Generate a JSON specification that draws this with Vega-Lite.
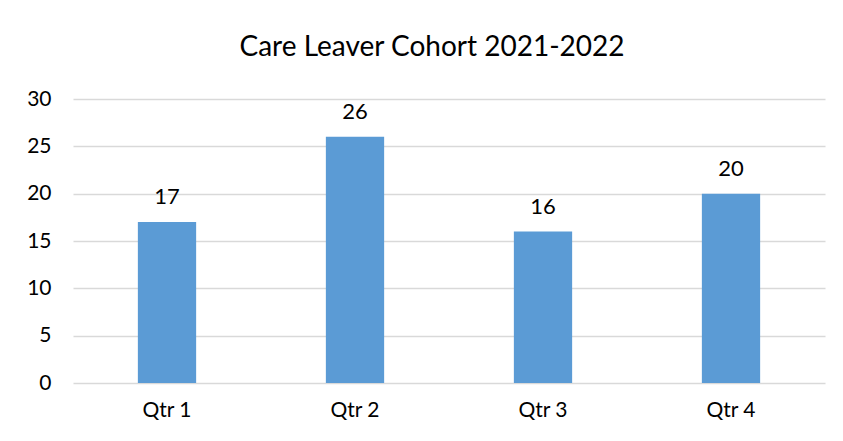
{
  "$schema": "https://vega.github.io/schema/vega-lite/v6.json",
  "autosize": "none",
  "padding": {"left": 73, "top": 99, "right": 18, "bottom": 58},
  "width": 752,
  "height": 284,
  "background": "white",
  "title": {
    "text": "Care Leaver Cohort 2021-2022",
    "font": "Lato",
    "fontSize": 28,
    "fontWeight": "normal",
    "color": "#000000",
    "anchor": "middle",
    "frame": "group",
    "dx": -17,
    "offset": 26
  },
  "data": {
    "values": [
      {"quarter": "Qtr 1", "count": 17},
      {"quarter": "Qtr 2", "count": 26},
      {"quarter": "Qtr 3", "count": 16},
      {"quarter": "Qtr 4", "count": 20}
    ]
  },
  "encoding": {
    "x": {
      "field": "quarter",
      "type": "nominal",
      "sort": null,
      "scale": {"paddingInner": 0.69, "paddingOuter": 0.345},
      "axis": {
        "title": null,
        "labelAngle": 0,
        "labelFont": "Lato",
        "labelFontSize": 21,
        "labelColor": "#000000",
        "labelPadding": 16,
        "ticks": false,
        "domain": false
      }
    },
    "y": {
      "field": "count",
      "type": "quantitative",
      "scale": {"domain": [0, 30]},
      "axis": {
        "title": null,
        "values": [0, 5, 10, 15, 20, 25, 30],
        "labelFont": "Lato",
        "labelFontSize": 21,
        "labelColor": "#000000",
        "labelPadding": 22,
        "ticks": false,
        "domain": false,
        "gridColor": "#d9d9d9",
        "gridWidth": 1.3
      }
    }
  },
  "layer": [
    {"mark": {"type": "bar", "color": "#5b9bd5"}},
    {
      "mark": {
        "type": "text",
        "font": "Lato",
        "fontSize": 22,
        "color": "#000000",
        "baseline": "alphabetic",
        "dy": -18
      },
      "encoding": {"text": {"field": "count", "type": "quantitative"}}
    }
  ],
  "config": {"view": {"stroke": null}}
}
